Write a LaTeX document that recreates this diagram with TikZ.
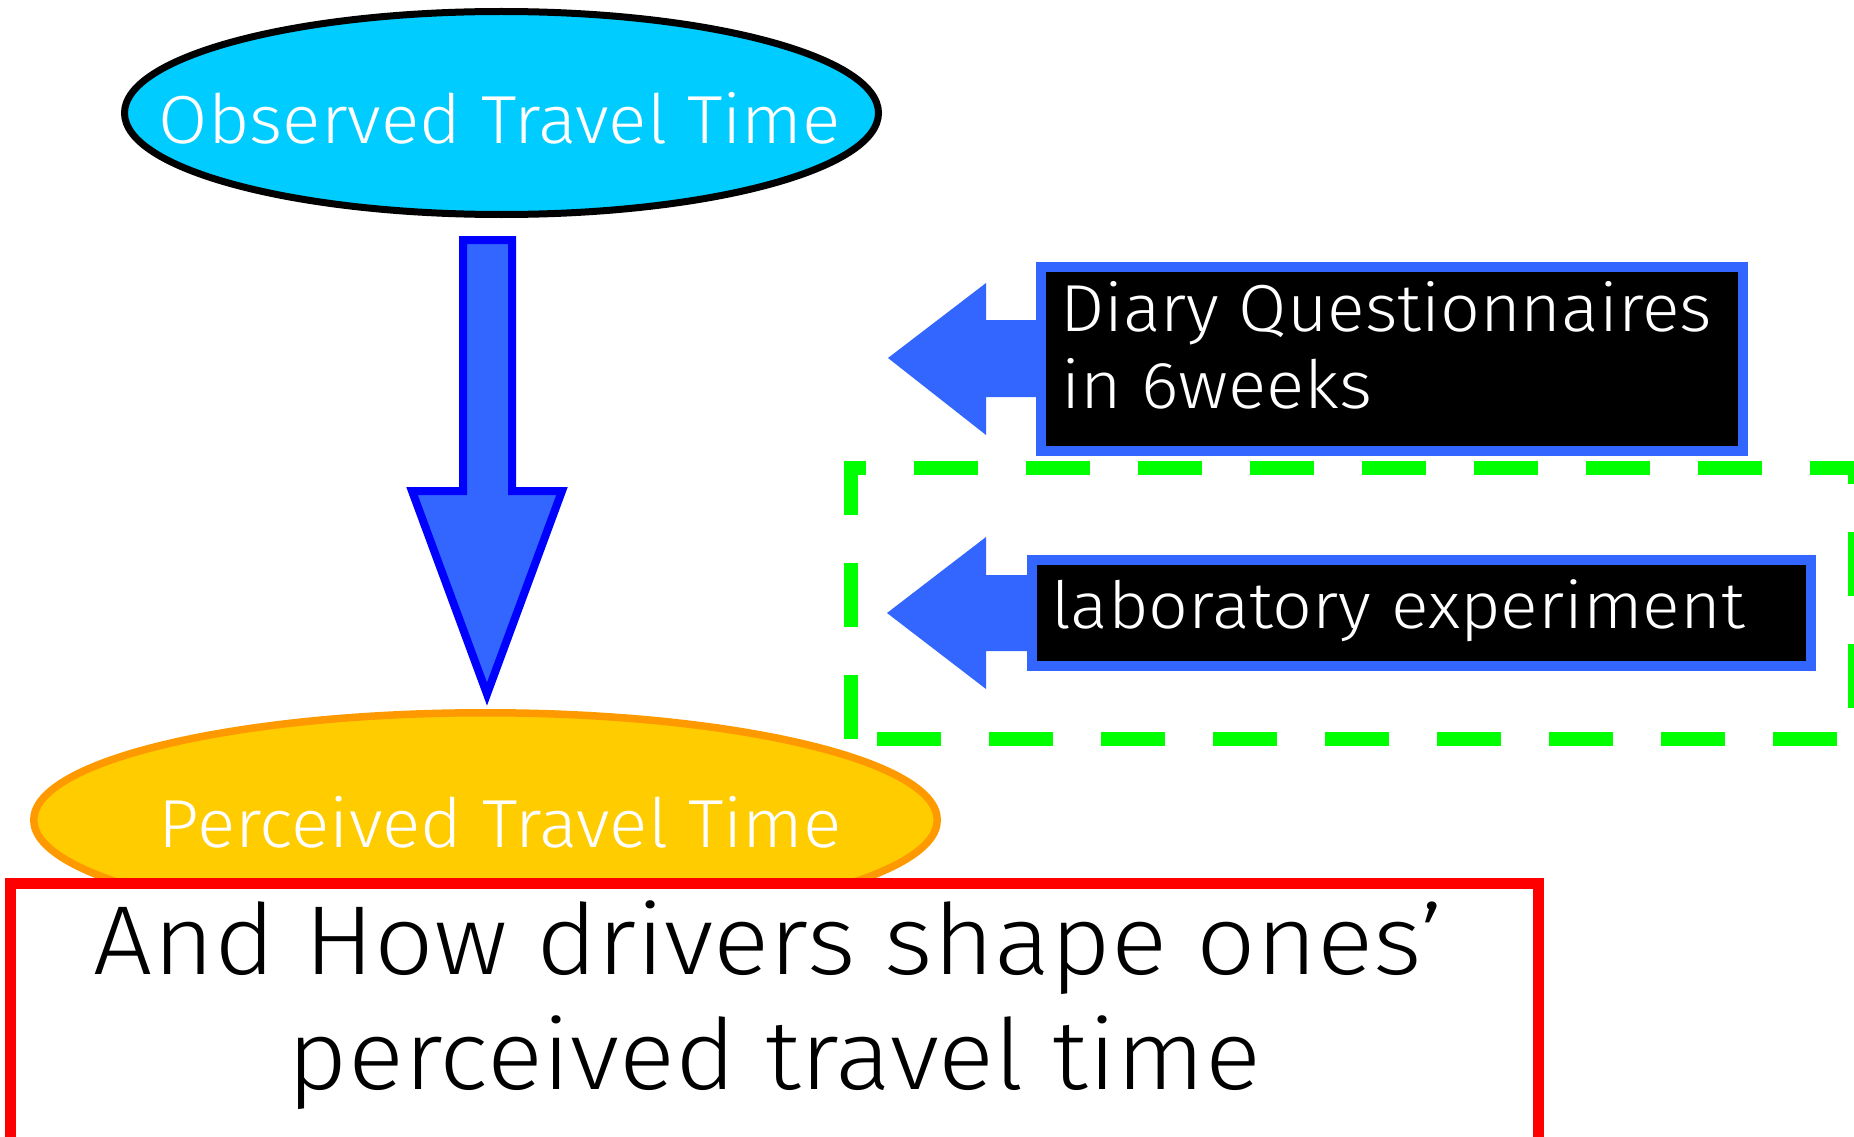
\documentclass[tikz,border=0pt]{standalone}
\usepackage{fontspec}
\setmainfont{Liberation Sans}
\newfontfamily\lightfont{Fira Sans Light}
\usetikzlibrary{shapes.geometric}
\definecolor{cyanfill}{HTML}{00CCFF}
\definecolor{goldfill}{HTML}{FFCC00}
\definecolor{orangeline}{HTML}{FF9900}
\definecolor{arrowblue}{HTML}{3366FF}
\definecolor{deepblue}{HTML}{0000FF}
\definecolor{boxred}{HTML}{FF0000}
\definecolor{dashgreen}{HTML}{00FF00}
\newcommand\fitw[2]{\resizebox{#1}{\height}{#2}}
\begin{document}
\begin{tikzpicture}[x=1pt,y=-1pt,
  oval/.style={ellipse, inner sep=0pt, outer sep=0pt},
  darkbox/.style={rectangle, draw=arrowblue, fill=black, line width=10pt, inner sep=0pt, outer sep=0pt},
  whitetext/.style={inner sep=0pt, outer sep=0pt, text=white},
  bigtext/.style={inner sep=0pt, outer sep=0pt, text=black, anchor=base, font=\lightfont\fontsize{98pt}{110pt}\selectfont},
  greendash/.style={draw=dashgreen, line width=14pt, dash pattern=on 64pt off 48pt},
  blockarrow/.style={fill=arrowblue},
]
\useasboundingbox (0,0) rectangle (1854,1137);
\begin{scope}
\clip (0,0) rectangle (1854,1137);

% ellipses
\node[oval, draw=black, fill=cyanfill, line width=7pt, minimum width=754pt, minimum height=203pt] (observed) at (501.5,113) {};
\node[oval, draw=orangeline, fill=goldfill, line width=7.5pt, minimum width=903.5pt, minimum height=214.5pt] (perceived) at (485.5,820) {};

% down block arrow
\draw[draw=deepblue, fill=arrowblue, line width=8pt, miter limit=20]
  (463,240) -- (512,240) -- (512,491) -- (562,491) -- (487,694) -- (412,491) -- (463,491) -- cycle;

% green dashed frame
\draw[greendash, dash phase=42pt] (844,468) -- (1862,468);
\draw[greendash, dash phase=10pt] (851,461) -- (851,746);
\draw[greendash, dash phase=0pt] (877,739) -- (1862,739);
\draw[greendash, dash phase=41pt] (1855,461) -- (1855,746);

% left block arrows
\fill[blockarrow] (888,358) -- (986,283) -- (986,320) -- (1040,320) -- (1040,397) -- (986,397) -- (986,435) -- cycle;
\fill[blockarrow] (887,613) -- (986,537) -- (986,575) -- (1032,575) -- (1032,651) -- (986,651) -- (986,689) -- cycle;

% dark boxes
\node[darkbox, minimum width=702pt, minimum height=184pt] (diarybox) at (1392,359) {};
\node[darkbox, minimum width=779pt, minimum height=106pt] (labbox) at (1421.5,613) {};

% red box
\node[rectangle, draw=boxred, fill=white, line width=11pt, inner sep=0pt, outer sep=0pt,
      minimum width=1528pt, minimum height=400pt, anchor=north west] (redbox) at (10.5,883.5) {};

% texts
\node[whitetext, anchor=base, font=\lightfont\fontsize{68pt}{78pt}\selectfont] (obstext) at (500,144) {\fitw{682pt}{Observed Travel Time}};
\node[whitetext, anchor=base, font=\lightfont\fontsize{68pt}{78pt}\selectfont] (perctext) at (500,847) {\fitw{683pt}{Perceived Travel Time}};
\node[whitetext, anchor=base west, font=\lightfont\fontsize{66.5pt}{76pt}\selectfont] (diary1) at (1060,331.5) {\fitw{652pt}{Diary Questionnaires}};
\node[whitetext, anchor=base west, font=\lightfont\fontsize{66.5pt}{76pt}\selectfont] (diary2) at (1061,408) {\fitw{311pt}{in 6weeks}};
\node[whitetext, anchor=base west, font=\lightfont\fontsize{65pt}{78pt}\selectfont] (labtext) at (1051,628) {\fitw{694pt}{laboratory experiment}};
\node[bigtext] (q1) at (768.5,974) {\fitw{1349pt}{And How drivers shape ones’}};
\node[bigtext] (q2) at (774.5,1089) {\fitw{973pt}{perceived travel time}};
\end{scope}
\end{tikzpicture}
\end{document}
